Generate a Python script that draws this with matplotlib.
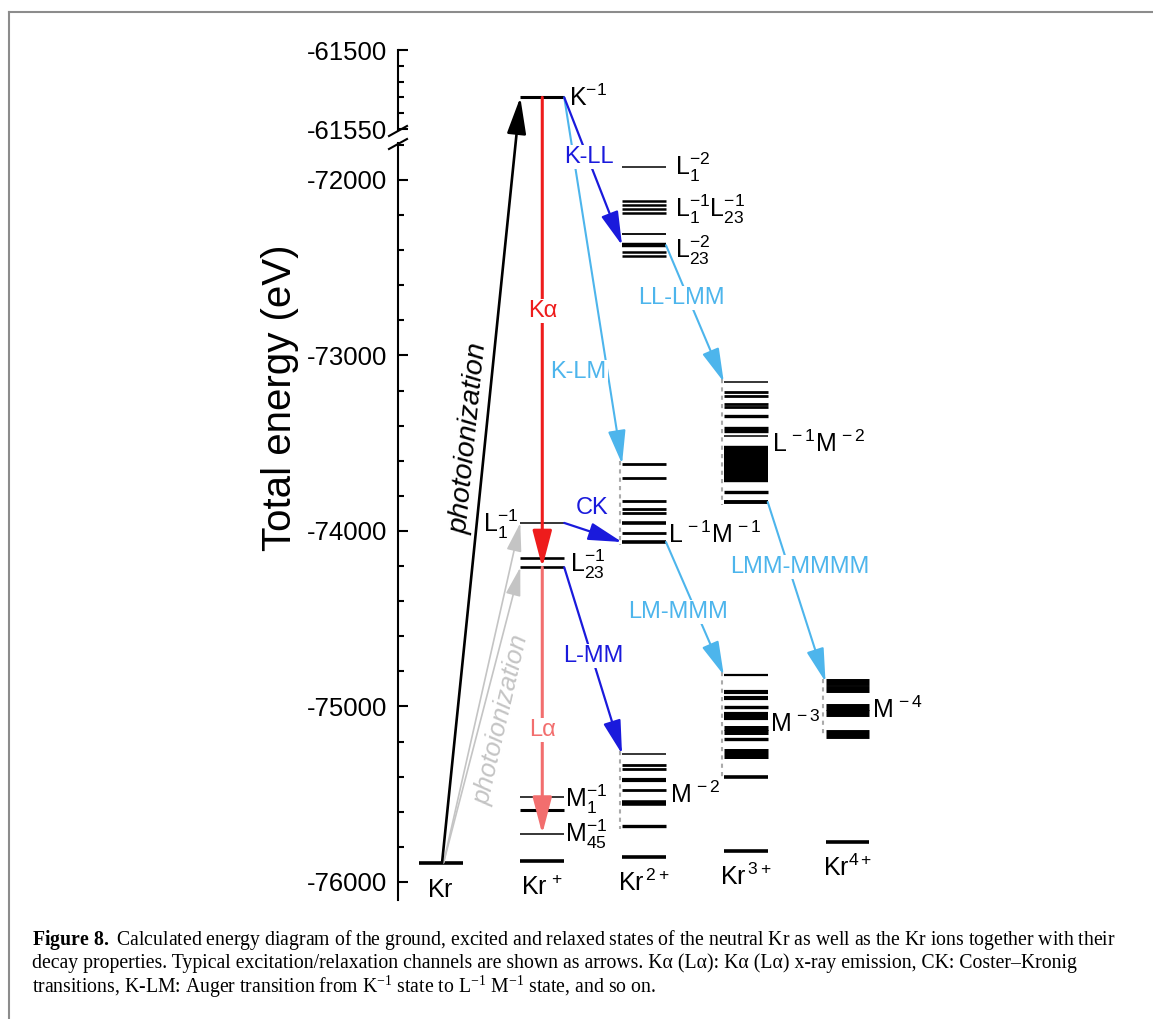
import matplotlib
matplotlib.use('Agg')
import matplotlib.pyplot as plt
from matplotlib.ticker import MultipleLocator
from matplotlib.lines import Line2D

plt.rcParams['font.family'] = ['Liberation Sans', 'DejaVu Sans']
plt.rcParams['mathtext.fontset'] = 'custom'
plt.rcParams['mathtext.rm'] = 'Liberation Sans'
plt.rcParams['mathtext.it'] = 'Liberation Sans:italic'
plt.rcParams['mathtext.bf'] = 'Liberation Serif:bold'   # only used for the caption head
plt.rcParams['axes.unicode_minus'] = False

# ---------------- data (energies in eV) ----------------
column_labels = [r'$\mathrm{Kr}$', r'$\mathrm{Kr}^{\,+}$', r'$\mathrm{Kr}^{\,2+}$',
                 r'$\mathrm{Kr}^{\,3+}$', r'$\mathrm{Kr}^{4+}$']
ground_E = [-75890, -75878, -75858, -75823, -75772]

K1_E = -61530                      # K^-1 (Kr+)
krp_L1_E = -73954                  # L1^-1
krp_L23_E = [-74152, -74207]       # L23^-1
krp_M_E = [-75517, -75590, -75726] # M^-1
krp_M_lw = [1.1, 2.2, 1.1]

kr2_LL_E = [-71928, -72120, -72142, -72165, -72190, -72309, -72372, -72408, -72433]
kr2_LL_lw = [1.1, 1.8, 1.8, 1.8, 1.8, 1.3, 3.2, 1.8, 1.8]
kr2_LM_E = [-73618, -73698, -73829, -73875, -73897, -73954, -74011, -74063]
kr2_LM_lw = [2.0, 2.0, 2.0, 2.0, 2.0, 2.6, 2.0, 2.6]
kr2_MM_E = [-75271, -75336, -75359, -75419, -75476, -75550, -75681]
kr2_MM_lw = [1.1, 2.0, 2.0, 3.0, 2.0, 4.0, 2.4]

kr3_LMM_E = [-73151, -73208, -73228, -73276, -73293, -73342, -73413, -73433, -73459,
             -73533, -73567, -73601, -73635, -73670, -73704, -73778, -73835]
kr3_LMM_lw = [1.1, 2.0, 2.0, 2.0, 2.0, 2.4, 2.4, 2.4, 1.1,
              4.6, 4.6, 4.6, 4.6, 4.6, 4.6, 2.4, 2.8]
kr3_MMM_E = [-74821, -74917, -74949, -75003, -75043, -75068, -75120, -75148,
             -75185, -75254, -75282, -75402]
kr3_MMM_lw = [1.6, 3.0, 3.0, 2.4, 3.0, 3.0, 3.6, 3.6, 2.4, 3.6, 3.6, 2.6]
kr4_MMMM_E = [-74860, -74900, -75003, -75037, -75154]
kr4_MMMM_lw = [5.0, 5.0, 5.0, 5.0, 6.4]

# ---------------- figure ----------------
W, H = 1153, 1019
fig = plt.figure(figsize=(W / 100, H / 100), dpi=100)


def fx(px):
    return px / W


def fy(py):
    return 1 - py / H


AX_L, AX_R = 398, 1000
ax_top = fig.add_axes([fx(AX_L), fy(130), (AX_R - AX_L) / W, (130 - 50) / H])
ax_bot = fig.add_axes([fx(AX_L), fy(900), (AX_R - AX_L) / W, (900 - 143) / H])
for ax in (ax_top, ax_bot):
    ax.set_xlim(-0.418, 5.499)
    ax.patch.set_alpha(0)
    for s in ('top', 'right', 'bottom'):
        ax.spines[s].set_visible(False)
    ax.spines['left'].set_linewidth(1.5)
    ax.set_xticks([])
    ax.tick_params(axis='y', which='major', direction='in', length=7.5, width=1.5,
                   labelsize=18.5, pad=8)
    ax.tick_params(axis='y', which='minor', direction='in', length=4.3, width=1.5)
ax_top.set_ylim(-61550.63, -61500)
ax_top.yaxis.set_major_locator(MultipleLocator(50))
ax_top.yaxis.set_minor_locator(MultipleLocator(10))
ax_bot.set_ylim(-76102.6, -71789.2)
ax_bot.yaxis.set_major_locator(MultipleLocator(1000))
ax_bot.yaxis.set_minor_locator(MultipleLocator(200))

# axis break marks
for ax, yf in ((ax_top, 0.0), (ax_bot, 1.0)):
    p = ax.get_position()
    y0 = p.y0 if yf == 0.0 else p.y1
    fig.add_artist(Line2D([p.x0 - 9 / W, p.x0 + 9 / W], [y0 - 6 / H, y0 + 4 / H],
                          color='black', lw=1.5))

hw = 0.216


def levels(ax, i, E, lw):
    ax.hlines(E, i - hw, i + hw, colors='black', linewidth=lw, zorder=2)


# ground states
for i, e in enumerate(ground_E):
    levels(ax_bot, i, [e], 2.6)
    ax_bot.annotate(column_labels[i], xy=(i, e), xytext=(0, -24.5), textcoords='offset points',
                    ha='center', va='baseline', fontsize=18)

# Kr+
levels(ax_top, 1, [K1_E], 2.2)
levels(ax_bot, 1, [krp_L1_E], 1.1)
levels(ax_bot, 1, krp_L23_E, [1.9, 1.9])
levels(ax_bot, 1, krp_M_E, krp_M_lw)
# Kr2+
levels(ax_bot, 2, kr2_LL_E, kr2_LL_lw)
levels(ax_bot, 2, kr2_LM_E, kr2_LM_lw)
levels(ax_bot, 2, kr2_MM_E, kr2_MM_lw)
# Kr3+
levels(ax_bot, 3, kr3_LMM_E, kr3_LMM_lw)
levels(ax_bot, 3, kr3_MMM_E, kr3_MMM_lw)
# Kr4+
levels(ax_bot, 4, kr4_MMMM_E, kr4_MMMM_lw)

# dotted group markers
for i, grp in ((2, kr2_LM_E), (2, kr2_MM_E), (3, kr3_LMM_E), (3, kr3_MMM_E), (4, kr4_MMMM_E)):
    ax_bot.plot([i - hw - 0.022] * 2, [max(grp) + 15, min(grp) - 15], color='#aaaaaa',
                lw=1.5, ls=(0, (2, 2)), zorder=1)

# level labels
LS = 18
ax_top.text(1.263, -61535.4, r'$\mathrm{K}^{-1}$', fontsize=LS, va='baseline')
lab = [
    (2.305, -71972, r'$\mathrm{L}_1^{-2}$', 'left'),
    (2.305, -72211, r'$\mathrm{L}_1^{-1}\mathrm{L}_{23}^{-1}$', 'left'),
    (2.305, -72444, r'$\mathrm{L}_{23}^{-2}$', 'left'),
    (0.762, -74006, r'$\mathrm{L}_1^{-1}$', 'right'),
    (1.273, -74234, r'$\mathrm{L}_{23}^{-1}$', 'left'),
    (2.236, -74068, r'$\mathrm{L}^{\,-1}\mathrm{M}^{\,-1}$', 'left'),
    (3.255, -73550, r'$\mathrm{L}^{\,-1}\mathrm{M}^{\,-2}$', 'left'),
    (2.256, -75550, r'$\mathrm{M}^{\,-2}$', 'left'),
    (3.238, -75145, r'$\mathrm{M}^{\,-3}$', 'left'),
    (4.238, -75066, r'$\mathrm{M}^{\,-4}$', 'left'),
    (1.224, -75573, r'$\mathrm{M}_1^{-1}$', 'left'),
    (1.224, -75772, r'$\mathrm{M}_{45}^{-1}$', 'left'),
]
for x, e, s, ha in lab:
    ax_bot.text(x, e, s, fontsize=LS, ha=ha, va='baseline', zorder=6)

# arrows
BLUE = '#1a1adc'
LBLUE = '#4db5ec'
RED = '#ee1c1c'
LRED = '#f26e6e'
GRAY = '#c4c4c4'


def arrow(start, sax, end, eax, color, lw, ms=13):
    ax_bot.annotate('', xy=end, xycoords=eax.transData, xytext=start, textcoords=sax.transData,
                    arrowprops=dict(arrowstyle='-|>,head_length=1.6,head_width=0.42',
                                    color=color, lw=lw, shrinkA=0, shrinkB=0,
                                    mutation_scale=ms),
                    annotation_clip=False, zorder=3)


arrow((0.03, ground_E[0]), ax_bot, (1 - hw, krp_L1_E), ax_bot, GRAY, 1.2, 11)
arrow((0.03, ground_E[0]), ax_bot, (1 - hw, krp_L23_E[1]), ax_bot, GRAY, 1.2, 11)
arrow((0.015, ground_E[0]), ax_bot, (1 - hw, K1_E), ax_top, 'black', 1.9, 14)
arrow((1, K1_E), ax_top, (1, krp_L23_E[1]), ax_bot, RED, 2.2, 14)
arrow((1, krp_L23_E[1]), ax_bot, (1, krp_M_E[2]), ax_bot, LRED, 2.2, 14)
arrow((1 + hw, K1_E), ax_top, (2 - hw, kr2_LM_E[0]), ax_bot, LBLUE, 1.5)
arrow((1 + hw, K1_E), ax_top, (2 - hw, kr2_LL_E[6]), ax_bot, BLUE, 1.6)
arrow((1 + hw, krp_L1_E), ax_bot, (2 - hw, kr2_LM_E[-1]), ax_bot, BLUE, 1.6)
arrow((1 + hw, krp_L23_E[1]), ax_bot, (2 - hw, kr2_MM_E[0]), ax_bot, BLUE, 1.6)
arrow((2 + hw, kr2_LL_E[6]), ax_bot, (3 - hw, kr3_LMM_E[0]), ax_bot, LBLUE, 1.5)
arrow((2 + hw, kr2_LM_E[-1]), ax_bot, (3 - hw, kr3_MMM_E[0]), ax_bot, LBLUE, 1.5)
arrow((3 + hw, kr3_LMM_E[-1]), ax_bot, (4 - hw, kr4_MMMM_E[0]), ax_bot, LBLUE, 1.5)

# arrow labels
AS = 17
alab = [
    (1.0, -72746, 'Kα', RED, True),
    (1.0, -75134, 'Lα', LRED, True),
    (1.459, -71869, 'K-LL', BLUE, True),
    (1.351, -73094, 'K-LM', LBLUE, True),
    (1.489, -73870, 'CK', BLUE, False),
    (1.499, -74712, 'L-MM', BLUE, True),
    (2.364, -72672, 'LL-LMM', LBLUE, True),
    (2.334, -74462, 'LM-MMM', LBLUE, True),
    (3.534, -74205, 'LMM-MMMM', LBLUE, True),
]
for x, e, s, c, box in alab:
    ax_bot.text(x, e, s, color=c, fontsize=AS, ha='center', va='center', zorder=5,
                bbox=dict(fc='white', ec='none', pad=1.0) if box else None)

ax_bot.text(0.28, -73470, 'photoionization', fontsize=20.5, style='italic', rotation=84.3,
            rotation_mode='anchor', ha='center', va='center', color='black', zorder=5)
ax_bot.text(0.604, -75077, 'photoionization', fontsize=18.5, style='italic', rotation=77,
            rotation_mode='anchor', ha='center', va='center', color=GRAY, zorder=5)

# y label
fig.text(fx(280), fy(398), 'Total energy (eV)', rotation=90, ha='center', va='center',
         fontsize=29)

# frame of the figure panel
fig.add_artist(Line2D([fx(9), fx(9)], [fy(12), 0], color='#8c8c8c', lw=1.5))
fig.add_artist(Line2D([fx(9), 1], [fy(12), fy(12)], color='#8c8c8c', lw=1.5))

# caption (one text block; bold head via mathtext bf = Liberation Serif Bold)
caption = (
    r'$\mathbf{Figure\ 8.}$ Calculated energy diagram of the ground, excited and relaxed states '
    r'of the neutral Kr as well as the Kr ions together with their' + '\n'
    r'decay properties. Typical excitation/relaxation channels are shown as arrows. '
    r'Kα (Lα): Kα (Lα) x-ray emission, CK: Coster–Kronig' + '\n'
    r'transitions, K-LM: Auger transition from K$\mathregular{^{-1}}$ state to '
    r'L$\mathregular{^{-1}}$ M$\mathregular{^{-1}}$ state, and so on.'
)
fig.text(fx(32), fy(928), caption, fontsize=14.2, family=['Liberation Serif', 'DejaVu Serif'],
         va='top', ha='left', linespacing=1.06)

fig.savefig('out.png', dpi=100)
